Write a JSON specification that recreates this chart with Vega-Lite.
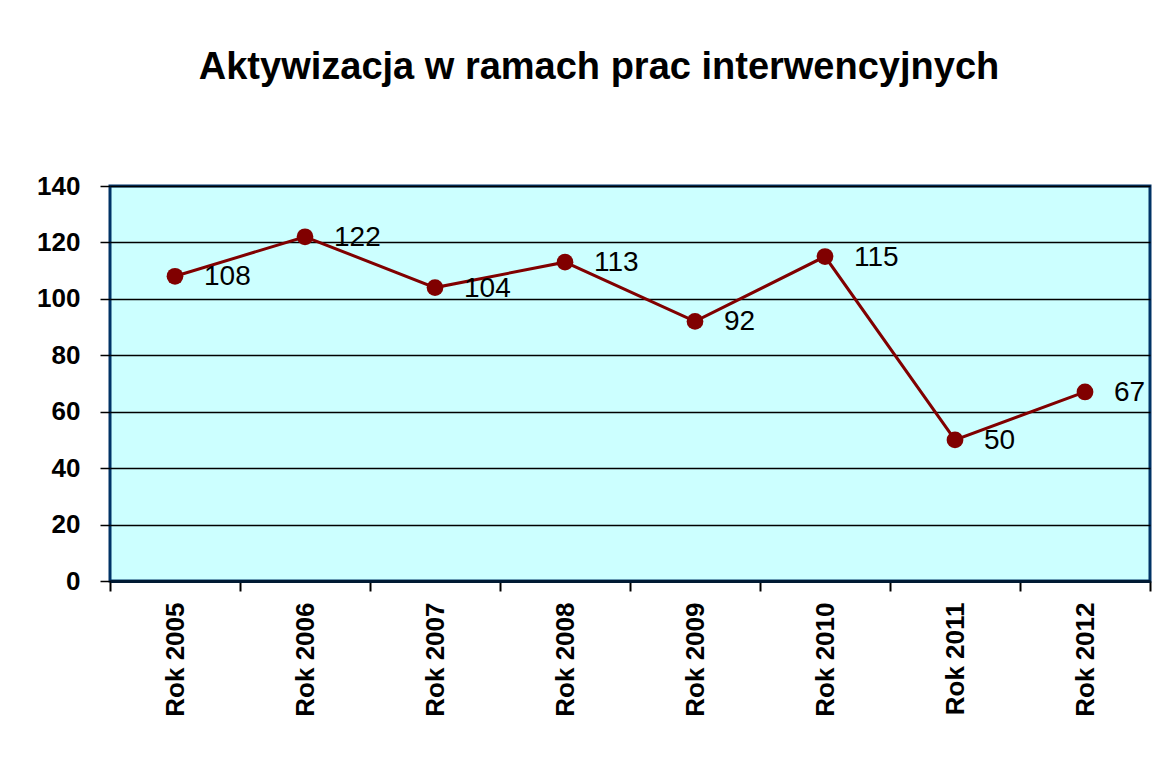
{
  "$schema": "https://vega.github.io/schema/vega-lite/v6.json",
  "width": 1040,
  "height": 395,
  "autosize": {"type": "none"},
  "padding": {"left": 110, "top": 186, "right": 24, "bottom": 195},
  "background": "#ffffff",
  "title": {
    "text": "Aktywizacja w ramach prac interwencyjnych",
    "font": "Liberation Sans",
    "fontSize": 38,
    "fontWeight": "bold",
    "color": "#000000",
    "anchor": "middle",
    "frame": "group",
    "dx": -31,
    "offset": 86
  },
  "data": {
    "values": [
      {"year": "Rok 2005", "value": 108},
      {"year": "Rok 2006", "value": 122},
      {"year": "Rok 2007", "value": 104},
      {"year": "Rok 2008", "value": 113},
      {"year": "Rok 2009", "value": 92},
      {"year": "Rok 2010", "value": 115},
      {"year": "Rok 2011", "value": 50},
      {"year": "Rok 2012", "value": 67}
    ]
  },
  "encoding": {
    "x": {
      "field": "year",
      "type": "nominal",
      "sort": null,
      "title": null,
      "scale": {"paddingInner": 0, "paddingOuter": 0},
      "axis": {
        "labelAngle": -90,
        "labelAlign": "right",
        "labelBaseline": "middle",
        "labelFont": "Liberation Sans",
        "labelFontSize": 26,
        "labelFontWeight": "bold",
        "labelColor": "#000000",
        "labelPadding": 11,
        "tickBand": "extent",
        "tickSize": 10,
        "tickWidth": 2,
        "tickColor": "#000000",
        "domainColor": "#001a33",
        "domainWidth": 3,
        "grid": false
      }
    },
    "y": {
      "field": "value",
      "type": "quantitative",
      "title": null,
      "scale": {"domain": [0, 140], "nice": false},
      "axis": {
        "values": [0, 20, 40, 60, 80, 100, 120, 140],
        "labelFont": "Liberation Sans",
        "labelFontSize": 26,
        "labelFontWeight": "bold",
        "labelColor": "#000000",
        "labelPadding": 20,
        "tickSize": 10,
        "tickWidth": 1.5,
        "tickColor": "#000000",
        "domain": false,
        "grid": true,
        "gridColor": "#000000",
        "gridWidth": 1.5,
        "gridOpacity": 1
      }
    }
  },
  "layer": [
    {
      "mark": {"type": "line", "color": "#800000", "strokeWidth": 3}
    },
    {
      "mark": {"type": "point", "filled": true, "color": "#800000", "size": 280, "opacity": 1}
    },
    {
      "mark": {
        "type": "text",
        "align": "left",
        "baseline": "middle",
        "dx": 29,
        "dy": 1,
        "font": "Liberation Sans",
        "fontSize": 28,
        "color": "#000000"
      },
      "encoding": {"text": {"field": "value", "type": "quantitative"}}
    }
  ],
  "config": {
    "view": {"fill": "#ccffff", "stroke": "#003366", "strokeWidth": 3}
  }
}
